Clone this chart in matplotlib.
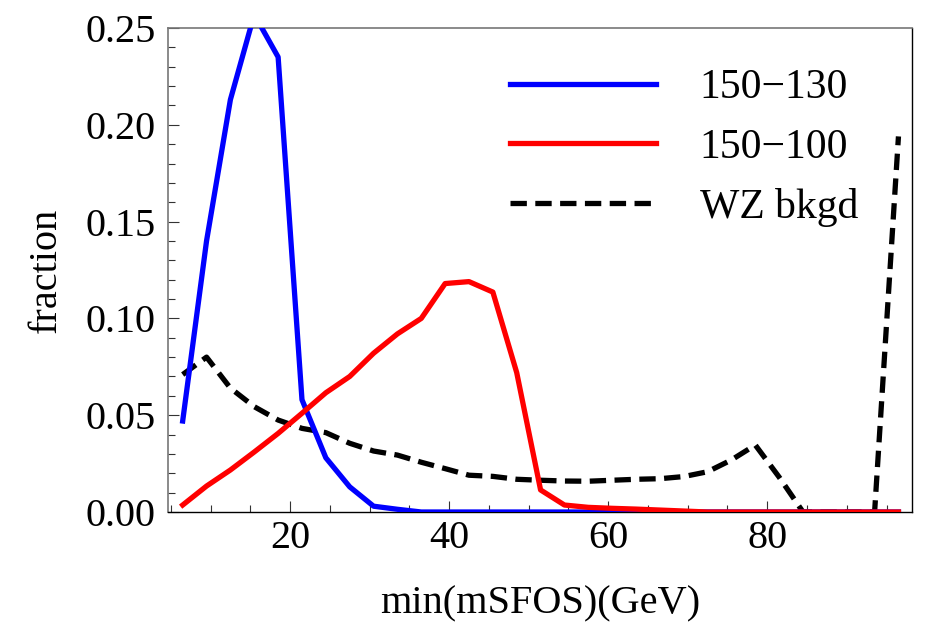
import matplotlib
matplotlib.use("Agg")
import matplotlib.pyplot as plt
from matplotlib.ticker import MultipleLocator

plt.rcParams["font.family"] = ["Liberation Serif", "DejaVu Serif"]

# -------------------------------------------------
# data (bin centres every 3 GeV)
# -------------------------------------------------
mass = [6.5 + 3 * i for i in range(31)]

sig_150_130 = [0.047, 0.140, 0.213, 0.257, 0.235, 0.058, 0.028, 0.013, 0.003, 0.0014,
               0, 0, 0, 0, 0, 0, 0, 0, 0, 0,
               0, 0, 0, 0, 0, 0, 0, 0, 0, 0, 0]

sig_150_100 = [0.0036, 0.0134, 0.0217, 0.031, 0.0406, 0.051, 0.0616, 0.070, 0.082, 0.092,
               0.100, 0.118, 0.119, 0.1136, 0.072, 0.0114, 0.0036, 0.0024, 0.0019, 0.0015,
               0.001, 0.0005, 0, 0, 0, 0, 0, 0, 0, 0, 0]

wz_bkgd = [0.071, 0.080, 0.064, 0.0544, 0.0475, 0.0432, 0.041, 0.0355, 0.0315, 0.0294,
           0.0257, 0.0224, 0.019, 0.0184, 0.0169, 0.0164, 0.016, 0.0159, 0.0164, 0.0169,
           0.0172, 0.0183, 0.0208, 0.0269, 0.0346, 0.0180, 0, 0, 0, 0, 0.194]

labels = ["150\u2212130", "150\u2212100", "WZ bkgd"]

# -------------------------------------------------
# figure
# -------------------------------------------------
fig = plt.figure(figsize=(9.27, 6.25), dpi=100)
ax = fig.add_axes([0.1812, 0.1808, 0.9838 - 0.1812, 0.9552 - 0.1808])

lw = 3.8
ax.plot(mass, wz_bkgd, color="black", lw=lw, dashes=(3.1, 1.6), label=labels[2], zorder=2)
ax.plot(mass, sig_150_130, color=(0, 0, 1), lw=lw, label=labels[0], zorder=3)
ax.plot(mass, sig_150_100, color=(1, 0, 0), lw=lw, label=labels[1], zorder=4)

ax.set_xlim(4.65, 98.2)
ax.set_ylim(0, 0.25)

ax.xaxis.set_major_locator(MultipleLocator(20))
ax.xaxis.set_minor_locator(MultipleLocator(5))
ax.yaxis.set_major_locator(MultipleLocator(0.05))
ax.yaxis.set_minor_locator(MultipleLocator(0.01))
ax.yaxis.set_major_formatter(matplotlib.ticker.FormatStrFormatter("%.2f"))

ax.tick_params(which="both", direction="in", top=False, right=False,
               color="#333333", width=0.8, labelsize=29)
ax.tick_params(which="major", length=8)
ax.tick_params(which="minor", length=5)
ax.tick_params(axis="y", pad=9)
ax.tick_params(axis="x", pad=6)

for side in ["left", "top"]:
    ax.spines[side].set_color("#777777")
    ax.spines[side].set_linewidth(1.2)
for side in ["right", "bottom"]:
    ax.spines[side].set_color("black")
    ax.spines[side].set_linewidth(1.0)

ax.set_xlabel("min(mSFOS)(GeV)", fontsize=29, labelpad=20)
ax.set_ylabel("fraction", fontsize=29, labelpad=15)

handles, labs = ax.get_legend_handles_labels()
order = [1, 2, 0]
fig.legend([handles[i] for i in order], [labs[i] for i in order],
           loc="upper left", bbox_to_anchor=(510 / 927, (625 - 69) / 625),
           frameon=False, borderpad=0, borderaxespad=0,
           fontsize=30, handlelength=3.5, handletextpad=1.05, labelspacing=0.5)

plt.savefig("out.png", dpi=100)
plt.close()
